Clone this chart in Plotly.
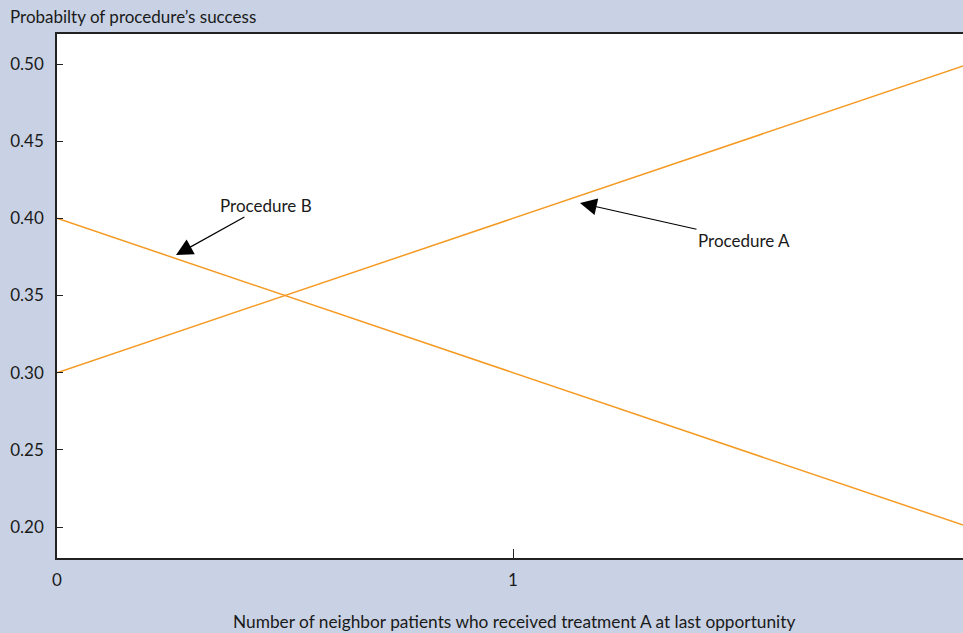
import plotly.graph_objects as go

x_vals = [0, 1, 2]
proc_a = [0.30, 0.40, 0.50]
proc_b = [0.40, 0.30, 0.20]
y_ticks = [0.20, 0.25, 0.30, 0.35, 0.40, 0.45, 0.50]
x_ticks = [0, 1]

BG = "#c9d2e4"
ORANGE = "#f59a23"
FONT = "Lato"
TXT = "#1a1a1a"

fig = go.Figure()
fig.add_trace(go.Scatter(x=x_vals, y=proc_a, mode="lines",
                         line=dict(color=ORANGE, width=1.5), name="Procedure A"))
fig.add_trace(go.Scatter(x=x_vals, y=proc_b, mode="lines",
                         line=dict(color=ORANGE, width=1.5), name="Procedure B"))

fig.update_layout(
    width=963, height=633,
    margin=dict(l=57, r=0, t=34, b=75),
    paper_bgcolor=BG, plot_bgcolor="white",
    showlegend=False,
    font=dict(family=FONT, size=17, color=TXT),
    xaxis=dict(range=[0, 906/456], tickvals=x_ticks, ticktext=["0", "1"],
               ticks="inside", ticklen=9, tickcolor="#222", tickwidth=1,
               showline=True, linecolor="#222", linewidth=1.5, mirror=True,
               showgrid=False, zeroline=False, ticklabelstandoff=6),
    yaxis=dict(range=[0.2 - 31/1543.33, 0.5 + 30/1543.33], tickvals=y_ticks,
               tickformat=".2f", ticks="inside", ticklen=6, tickcolor="#222",
               tickwidth=1, showline=True, linecolor="#222", linewidth=1.5,
               showgrid=False, zeroline=False, ticklabelstandoff=8),
    annotations=[
        dict(text="Probabilty of procedure\u2019s success", xref="paper", yref="paper",
             x=(8-57)/906, y=(558-16)/524, xanchor="left", yanchor="middle",
             showarrow=False),
        dict(text="Number of neighbor patients who received treatment A at last opportunity",
             xref="paper", yref="paper", x=(514-57)/906, y=(558-621)/524,
             xanchor="center", yanchor="middle", showarrow=False,
             font=dict(size=17.3)),
        dict(text="Procedure B", x=(176-57)/456, y=0.2 + (527-255)/1543.33,
             ax=90, ay=-50, showarrow=True, arrowhead=2, arrowsize=2.8,
             arrowwidth=1.2, arrowcolor="black"),
        dict(text="Procedure A", x=(580-57)/456, y=0.2 + (527-203)/1543.33,
             ax=164, ay=37, showarrow=True, arrowhead=2, arrowsize=2.8,
             arrowwidth=1.2, arrowcolor="black"),
    ],
)

fig.write_html("out.html", config={"displayModeBar": False},
               post_script="document.body.style.margin='0';")
